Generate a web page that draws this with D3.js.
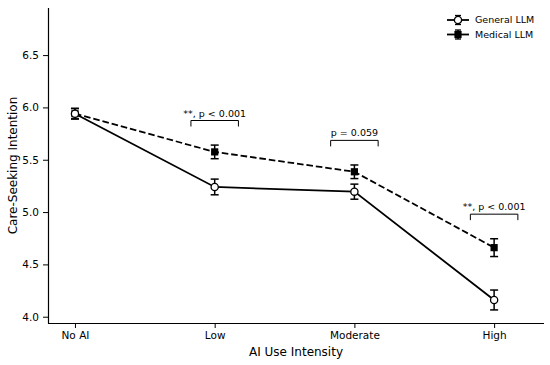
<!DOCTYPE html>
<html>
<head>
<meta charset="utf-8">
<script src="https://cdn.jsdelivr.net/npm/d3@7"></script>
<style>
body { margin: 0; background: #fff; }
svg text { font-family: "DejaVu Sans", sans-serif; fill: #000; }
</style>
</head>
<body>
<svg id="chart" width="550" height="365"></svg>
<script>
// categories and group means / errors
const categories = ['No AI', 'Low', 'Moderate', 'High'];
const generalMeans = [5.94, 5.24, 5.195, 4.16];
const generalErr = [0.05, 0.075, 0.072, 0.095];
const medicalMeans = [5.94, 5.575, 5.385, 4.66];
const medicalErr = [0.05, 0.065, 0.065, 0.085];
const yTicks = [4.0, 4.5, 5.0, 5.5, 6.0, 6.5];

// significance brackets (category index, label)
const sigIndex = [1, 2, 3];
const sigLabels = ['**, p < 0.001', 'p = 0.059', '**, p < 0.001'];

const margin = {left: 48, right: 6, top: 8, bottom: 42};
const width = 550, height = 365;

const svg = d3.select('#chart');

const x = d3.scaleLinear()
	.domain([-0.193, 3.357])
	.range([margin.left, width - margin.right]);
const y = d3.scaleLinear()
	.domain([3.94, 6.95])
	.range([height - margin.bottom, margin.top]);

const series = [
	{name: 'General LLM', means: generalMeans, err: generalErr, dash: null, marker: 'circle'},
	{name: 'Medical LLM', means: medicalMeans, err: medicalErr, dash: '6.6,2.9', marker: 'square'}
];

// axes
const yAxis = svg.append('g')
	.attr('transform', 'translate(' + margin.left + ',0)')
	.call(d3.axisLeft(y).tickValues(yTicks).tickFormat(d3.format('.1f')).tickSize(5).tickPadding(4));
const xAxis = svg.append('g')
	.attr('transform', 'translate(0,' + (height - margin.bottom) + ')')
	.call(d3.axisBottom(x).tickValues(d3.range(categories.length)).tickFormat(i => categories[i]).tickSize(5).tickPadding(4));

[xAxis, yAxis].forEach(a => {
	a.select('.domain').attr('stroke', '#000').attr('stroke-width', 1.2);
	a.selectAll('.tick line').attr('stroke', '#000').attr('stroke-width', 1);
	a.selectAll('.tick text').attr('font-size', 10.5).attr('font-family', 'DejaVu Sans').attr('fill', '#000');
});
// drop the outer-tick ends from domain path
yAxis.select('.domain').attr('d', 'M0.5,' + y.range()[1] + 'V' + (y.range()[0] + 0.5));
xAxis.select('.domain').attr('d', 'M' + x.range()[0] + ',0.5H' + x.range()[1]);

svg.append('text')
	.attr('x', (x.range()[0] + x.range()[1]) / 2)
	.attr('y', 356)
	.attr('text-anchor', 'middle')
	.attr('font-size', 12)
	.text('AI Use Intensity');

svg.append('text')
	.attr('transform', 'translate(17,' + ((y.range()[0] + y.range()[1]) / 2) + ') rotate(-90)')
	.attr('text-anchor', 'middle')
	.attr('font-size', 12)
	.text('Care-Seeking Intention');

const line = d3.line()
	.x((d, i) => x(i))
	.y(d => y(d));

function drawMarker(g, type, cx, cy) {
	if (type === 'circle') {
		g.append('circle')
			.attr('cx', cx).attr('cy', cy).attr('r', 3.6)
			.attr('fill', '#fff').attr('stroke', '#000').attr('stroke-width', 1.3);
	} else {
		g.append('rect')
			.attr('x', cx - 3.6).attr('y', cy - 3.6)
			.attr('width', 7.2).attr('height', 7.2)
			.attr('fill', '#000');
	}
}

// medical drawn first so general sits on top like the original
series.slice().reverse().forEach(s => {
	const g = svg.append('g');
	g.append('path')
		.datum(s.means)
		.attr('d', line)
		.attr('fill', 'none')
		.attr('stroke', '#000')
		.attr('stroke-width', 1.8)
		.attr('stroke-dasharray', s.dash);
	s.means.forEach((m, i) => {
		const cx = x(i);
		g.append('line')
			.attr('x1', cx).attr('x2', cx)
			.attr('y1', y(m - s.err[i])).attr('y2', y(m + s.err[i]))
			.attr('stroke', '#000').attr('stroke-width', 1.5);
		[m - s.err[i], m + s.err[i]].forEach(v => {
			g.append('line')
				.attr('x1', cx - 4).attr('x2', cx + 4)
				.attr('y1', y(v)).attr('y2', y(v))
				.attr('stroke', '#000').attr('stroke-width', 1.5);
		});
		drawMarker(g, s.marker, cx, y(m));
	});
});

// significance brackets
sigIndex.forEach((idx, k) => {
	const top = Math.max(generalMeans[idx] + generalErr[idx], medicalMeans[idx] + medicalErr[idx]) + 0.235;
	const x0 = x(idx - 0.17), x1 = x(idx + 0.17);
	const yb = y(top);
	svg.append('path')
		.attr('d', 'M' + x0 + ',' + (yb + 6) + 'V' + yb + 'H' + x1 + 'V' + (yb + 6))
		.attr('fill', 'none')
		.attr('stroke', '#000')
		.attr('stroke-width', 1);
	svg.append('text')
		.attr('x', x(idx))
		.attr('y', yb - 4)
		.attr('text-anchor', 'middle')
		.attr('font-size', 9.5)
		.text(sigLabels[k]);
});

// legend
const legend = svg.append('g').attr('transform', 'translate(447,20)');
series.forEach((s, i) => {
	const row = legend.append('g').attr('transform', 'translate(0,' + (i * 14.5) + ')');
	row.append('line').attr('x1', 0).attr('x2', 22).attr('y1', 0).attr('y2', 0)
		.attr('stroke', '#000').attr('stroke-width', 1.8);
	row.append('line').attr('x1', 11).attr('x2', 11).attr('y1', -4.5).attr('y2', 4.5)
		.attr('stroke', '#000').attr('stroke-width', 1.5);
	row.append('line').attr('x1', 8).attr('x2', 14).attr('y1', -4.5).attr('y2', -4.5)
		.attr('stroke', '#000').attr('stroke-width', 1.3);
	row.append('line').attr('x1', 8).attr('x2', 14).attr('y1', 4.5).attr('y2', 4.5)
		.attr('stroke', '#000').attr('stroke-width', 1.3);
	drawMarker(row, s.marker, 11, 0);
	row.append('text')
		.attr('x', 28)
		.attr('y', 0)
		.attr('dy', '0.35em')
		.attr('font-size', 9.5)
		.text(s.name);
});
</script>
</body>
</html>
